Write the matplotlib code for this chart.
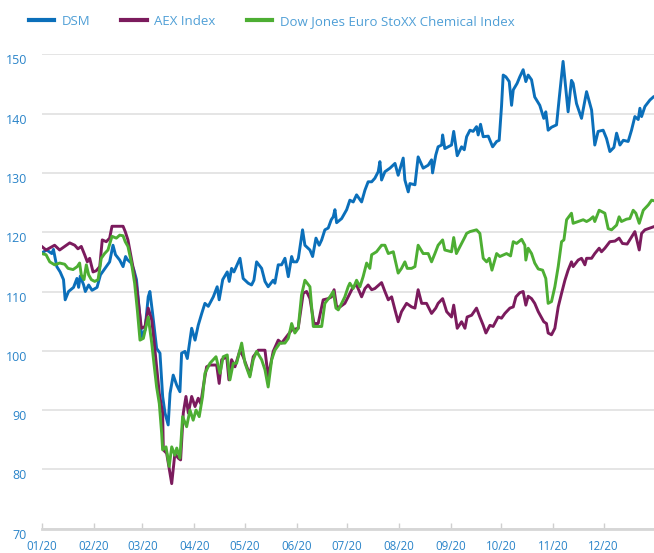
import matplotlib.pyplot as plt

# days since 1 Jan 2020 and index levels
dsm_days = [0, 3, 6, 7, 9, 11, 13, 14, 16, 19, 21, 22, 23, 25, 26, 28, 30, 33, 35, 38.5, 40.5,
            42.5, 44, 46.5, 48.5, 50, 51, 53.4, 55, 56.5, 57.6, 59.6, 61.6, 63.5, 64.5, 66.1,
            68.5, 70.5, 72.1, 73.5, 75.4, 76.5, 78.4, 80.5, 82.4, 83.4, 85.4, 86.8, 89.4, 91.4,
            93.3, 95.4, 97.3, 99.3, 102.3, 104.6, 105.8, 107.9, 110.6, 111.8, 113.2, 114.6,
            118.2, 120.1, 123.1, 125.1, 126.5, 128.1, 131.1, 133.1, 135, 138, 139, 141, 143,
            145, 147, 149, 150, 152, 153, 155.5, 156.9, 159.9, 161.5, 163.5, 165.4, 166.9,
            168.8, 170.8, 172.6, 173.8, 174.8, 175.8, 178.8, 181.8, 183.7, 185.7, 187.7, 190.7,
            192.7, 194.6, 196.7, 198.6, 200.6, 201.6, 202.6, 204.6, 207.6, 210.6, 212.5, 215.5,
            216.5, 218.5, 219.5, 222.5, 224.4, 227.4, 230.4, 232.4, 233, 234.9, 236.3, 238.4,
            239, 240.3, 244.3, 245.6, 247.7, 250.3, 251.9, 253.3, 255.3, 257.2, 259.2, 260.2,
            261.6, 263.2, 266.2, 267.2, 268.8, 271.2, 272.7, 274.1, 275.1, 276.7, 278.7, 280.1,
            281.1, 283.4, 285, 287, 288.6, 290, 292, 293.9, 296.9, 299.3, 300.5, 301.9, 303.9,
            306.9, 308.5, 310.8, 312.5, 313.8, 315.8, 316.8, 318.8, 321.8, 324.8, 327.8, 329.7,
            331.7, 334.7, 336.7, 338.7, 341.1, 342.7, 344.7, 346.7, 349.6, 351.6, 353.6, 355.6,
            356.6, 357.6, 359.6, 362.6, 364.6]
dsm = [116.5, 117.0, 116.4, 117.1, 114.2, 113.3, 112.0, 108.6, 110.0, 110.7, 112.2, 110.7, 112.6,
       111.1, 110.0, 111.1, 110.2, 110.7, 112.8, 114.2, 115.0, 117.8, 116.2, 115.3, 114.2, 115.9,
       115.4, 114.8, 113.6, 112.0, 108.6, 102.4, 103.5, 109.1, 110.0, 106.3, 100.4, 99.6, 92.3,
       89.5, 87.5, 92.8, 95.9, 94.2, 93.1, 99.6, 99.9, 98.7, 103.8, 101.8, 104.3, 106.3, 108.0,
       107.5, 109.1, 110.8, 108.6, 112.0, 113.3, 111.7, 113.9, 113.3, 115.6, 112.2, 111.4, 111.1,
       111.9, 115.0, 113.9, 111.7, 110.8, 111.9, 111.4, 114.5, 114.5, 115.6, 112.5, 115.9, 115.0,
       115.0, 115.6, 120.4, 117.8, 117.0, 115.9, 119.0, 117.8, 118.7, 120.4, 120.7, 122.1, 122.6,
       123.8, 121.6, 122.3, 123.8, 125.4, 125.1, 126.3, 125.1, 127.1, 128.5, 128.5, 129.1, 130.2,
       131.9, 128.8, 130.2, 130.8, 131.6, 129.6, 132.5, 128.8, 126.8, 128.2, 128.0, 132.7, 130.8,
       131.3, 132.2, 130.0, 133.0, 134.4, 134.7, 136.4, 134.1, 134.7, 137.0, 132.9, 134.4, 133.9,
       136.1, 137.2, 137.0, 137.8, 136.4, 138.2, 136.1, 136.2, 135.5, 134.4, 135.3, 135.5, 141.2,
       146.5, 146.2, 145.4, 141.4, 144.0, 145.1, 146.2, 147.4, 145.4, 146.5, 145.7, 142.8, 141.4,
       139.2, 140.3, 137.2, 137.7, 138.1, 142.6, 148.8, 144.0, 140.3, 145.6, 145.1, 141.7, 139.2,
       143.7, 140.6, 134.7, 137.0, 137.2, 135.8, 133.6, 134.3, 136.7, 134.7, 135.5, 135.3, 137.2,
       139.5, 139.0, 140.9, 139.5, 141.2, 142.3, 142.8]

aex_days = [0, 2.6, 7.7, 10.7, 16.7, 19.7, 21.6, 23.6, 25.6, 27.2, 28.6, 30.6, 32.5, 34.6, 36.1,
            38.5, 40.5, 41.9, 48.5, 49.8, 51.4, 54.4, 56.6, 59.4, 61.6, 63.5, 65.6, 66.9, 68.5,
            70.1, 72.1, 72.5, 74.5, 76, 77.5, 79.4, 81.4, 82.8, 84.4, 86, 87.4, 89.4, 91.4, 93.3,
            94.8, 96.3, 98.3, 100.3, 104.3, 105.8, 107.3, 110.3, 111.6, 113.2, 115.2, 118.2,
            120.1, 124.1, 126.1, 129.1, 133.1, 135, 138, 141, 143, 146, 149, 152.9, 155.9, 157.9,
            159.9, 162.3, 164.8, 167.8, 170.8, 172.8, 174.3, 175.8, 177.8, 180.7, 182.7, 185.7,
            187.7, 190.7, 192.7, 194.6, 196.7, 198.6, 202.6, 204.6, 206.6, 208.6, 210.6, 212.5,
            214.5, 217.5, 220.5, 222.5, 224.4, 226.5, 229.4, 232.4, 234.9, 236.3, 239, 241.4,
            244.3, 245.6, 247.7, 250.3, 252.3, 253.6, 256.3, 259.2, 261.2, 263.2, 264.8, 267.2,
            269.1, 272.1, 274.1, 276.1, 279.1, 281.1, 282.7, 285, 287, 288.6, 290, 292, 293.9,
            296, 299.3, 300.9, 301.9, 303.9, 305.9, 307.9, 309.9, 311.9, 313.8, 315.8, 316.8,
            319.8, 321.8, 323.8, 324.8, 327.8, 329.7, 332.3, 333.7, 335.7, 338.7, 341.7, 344.2,
            346.2, 349, 351.6, 353.6, 355, 356.2, 357.6, 359.6, 362.6, 364.6]
aex = [117.6, 117.0, 117.8, 117.0, 118.2, 117.8, 117.2, 117.6, 116.2, 115.0, 115.6, 113.3, 113.5,
       114.2, 118.7, 118.4, 119.0, 121.0, 121.0, 120.1, 118.7, 114.2, 110.8, 103.8, 104.1, 107.2,
       105.2, 101.8, 97.3, 92.8, 89.5, 83.3, 82.7, 80.2, 77.6, 82.7, 81.9, 81.6, 89.5, 92.3, 89.5,
       92.3, 90.6, 92.0, 91.1, 93.9, 97.3, 97.6, 97.6, 94.5, 98.5, 99.0, 95.1, 98.5, 97.3, 100.1,
       99.0, 95.9, 99.0, 100.1, 100.1, 95.6, 99.9, 101.8, 101.3, 102.4, 103.5, 103.8, 109.7, 110.0,
       108.8, 104.6, 104.6, 108.6, 108.8, 109.1, 110.3, 107.4, 107.4, 108.0, 109.1, 110.8, 111.1,
       109.1, 110.5, 111.1, 110.3, 110.5, 111.5, 110.0, 108.6, 109.1, 106.9, 104.9, 106.6, 108.0,
       107.4, 107.2, 110.3, 108.0, 108.0, 106.3, 107.2, 108.0, 108.8, 106.6, 105.7, 107.7, 103.8,
       104.9, 103.8, 105.7, 106.0, 107.2, 105.7, 104.3, 103.0, 104.3, 104.1, 105.7, 105.5, 106.3,
       107.2, 107.4, 109.1, 109.8, 110.0, 107.7, 109.2, 108.8, 108.0, 106.6, 104.9, 104.6, 103.0,
       102.7, 103.8, 107.4, 109.7, 111.9, 113.6, 115.0, 114.2, 115.3, 115.6, 114.5, 115.6, 115.6,
       116.4, 117.3, 116.7, 117.3, 118.4, 118.5, 119.0, 118.1, 118.0, 119.2, 120.1, 118.4, 117.0,
       119.8, 120.4, 120.7, 120.9]

dj_days = [0, 2.6, 4.8, 7.7, 10.7, 13.7, 15.7, 18.7, 21.2, 22.6, 23.6, 25.2, 26.6, 28, 29.6, 31.6,
           33.6, 35.5, 37.5, 39.5, 41.9, 44.5, 46.5, 48.5, 49.8, 51.4, 53.4, 55.4, 57, 58.6, 60.6,
           63.5, 65.6, 66.9, 68.5, 70.1, 71.5, 72.1, 74.1, 76, 77.5, 79.4, 80.5, 82.4, 84, 86.4,
           88.4, 90.3, 92, 93.9, 95.9, 97.3, 100.3, 103.9, 106.3, 108.2, 110.6, 112.2, 114.2,
           116.2, 119.2, 121.2, 124.1, 126.1, 128.1, 131.1, 133.1, 135, 137.1, 139, 142, 145, 147,
           149, 150.9, 152.9, 154.9, 156.9, 159.9, 161.9, 164.8, 166.9, 168.8, 171.8, 173.8,
           175.4, 176.8, 178.8, 180.7, 182.7, 183.7, 185.7, 187.7, 189.7, 191.6, 193.7, 195.6,
           196.7, 199.6, 202.6, 204.6, 206.6, 209.6, 211.6, 212.5, 214.5, 216.5, 217.9, 220.5,
           222.5, 224.4, 227.4, 230.4, 232.4, 234.4, 236.3, 239, 240.3, 244.3, 245.6, 247.2,
           250.3, 252.3, 253.3, 255.3, 259.2, 261.2, 263.2, 265.2, 266.8, 268.4, 271.2, 273.1,
           277.1, 279.5, 281.1, 283.1, 286.1, 288, 288.6, 290, 292, 293.9, 296, 298.6, 300.5,
           301.9, 303.9, 305.9, 307.9, 309.9, 311.3, 312.9, 315.8, 316.8, 319.8, 322.8, 324.8,
           326.7, 328.7, 329.7, 332.3, 335.7, 337.7, 339.7, 342.7, 344.2, 345.6, 348.6, 350.6,
           352.6, 354.2, 356.2, 358.6, 361.6, 363.6, 365]
dj = [116.4, 116.2, 115.0, 114.5, 114.8, 114.6, 113.9, 113.7, 114.2, 114.8, 112.8, 112.0, 114.5,
      112.8, 112.0, 111.7, 112.0, 115.6, 116.4, 117.0, 119.3, 119.0, 119.5, 119.4, 118.4, 117.6,
      115.0, 111.4, 106.9, 101.8, 102.1, 105.7, 101.3, 97.9, 93.9, 91.1, 86.1, 83.3, 83.8, 80.5,
      83.8, 82.4, 83.6, 81.9, 88.9, 87.2, 90.0, 88.3, 90.0, 88.9, 92.3, 96.2, 97.9, 99.0, 96.2,
      99.0, 99.3, 95.1, 97.9, 97.9, 101.3, 97.9, 95.6, 98.5, 99.9, 98.5, 96.8, 93.9, 98.5, 100.1,
      101.3, 101.3, 102.1, 104.6, 103.0, 103.8, 109.4, 111.9, 110.8, 104.1, 104.1, 104.1, 108.0,
      109.1, 110.0, 107.2, 106.9, 108.0, 109.1, 110.8, 111.4, 110.5, 111.9, 110.8, 112.5, 114.8,
      113.9, 116.2, 116.7, 117.8, 117.8, 116.4, 116.7, 114.2, 113.1, 113.9, 115.0, 113.9, 113.9,
      114.2, 117.8, 116.4, 116.4, 115.0, 116.4, 117.8, 118.7, 117.0, 116.7, 119.1, 116.4, 118.1,
      119.2, 119.8, 120.1, 120.4, 119.8, 115.6, 115.0, 115.6, 113.6, 116.4, 115.9, 116.4, 116.0,
      118.4, 118.1, 118.8, 117.8, 115.3, 117.3, 116.4, 114.8, 113.8, 113.6, 112.2, 108.0, 108.3,
      110.8, 114.2, 118.4, 118.7, 122.1, 123.2, 121.5, 121.8, 122.1, 121.8, 122.1, 122.6, 121.8,
      123.7, 123.2, 120.6, 120.4, 121.2, 122.6, 121.8, 122.2, 122.3, 123.7, 123.2, 121.5, 123.7,
      124.6, 125.4, 125.3]

month_days = [0, 31, 60, 91, 121, 152, 182, 213, 244, 274, 305, 335]
month_labels = ['01/20', '02/20', '03/20', '04/20', '05/20', '06/20',
                '07/20', '08/20', '09/20', '10/20', '11/20', '12/20']
y_ticks = [70, 80, 90, 100, 110, 120, 130, 140, 150]

C_DSM = '#0b6fba'
C_AEX = '#7b1b5d'
C_DJ = '#4dae33'
C_TEXT = '#2a84c9'
C_GRID = '#dedede'

plt.rcParams['font.family'] = ['Open Sans', 'DejaVu Sans']

fig = plt.figure(figsize=(6.54, 5.53), dpi=100)
ax = fig.add_axes([41.7 / 654, (553 - 528.7) / 553, 1 - 41.7 / 654, (528.7 - 54.3) / 553])

ax.plot(dsm_days, dsm, color=C_DSM, lw=2.1, label='DSM', solid_joinstyle='round')
ax.plot(aex_days, aex, color=C_AEX, lw=2.1, label='AEX Index', solid_joinstyle='round')
ax.plot(dj_days, dj, color=C_DJ, lw=2.1, label='Dow Jones Euro StoXX Chemical Index',
        solid_joinstyle='round')

ax.set_xlim(0, 365)
ax.set_ylim(70, 150)
ax.set_yticks(y_ticks)
ax.set_xticks(month_days)
ax.set_xticklabels(month_labels)

for s in ['top', 'right', 'left']:
    ax.spines[s].set_visible(False)
ax.spines['bottom'].set_color('#d6d6d6')
ax.spines['bottom'].set_linewidth(2)

ax.grid(axis='y', color=C_GRID, lw=1.1)
ax.set_axisbelow(True)

ax.tick_params(axis='y', length=0, pad=10.5, labelsize=9, labelcolor=C_TEXT)
ax.tick_params(axis='x', direction='in', length=4, width=1, color='#cfcfcf',
               pad=8, labelsize=8.3, labelcolor=C_TEXT)
for lab in ax.get_yticklabels():
    lab.set_verticalalignment('top')

leg = fig.legend(loc='upper left', bbox_to_anchor=(0.026, 0.995), ncol=3, frameon=False,
                 fontsize=9.5, handlelength=1.9, handletextpad=0.6, columnspacing=2.35,
                 labelcolor='#4f9fd6')
for line in leg.get_lines():
    line.set_linewidth(3)

fig.savefig('out.png', dpi=100)
